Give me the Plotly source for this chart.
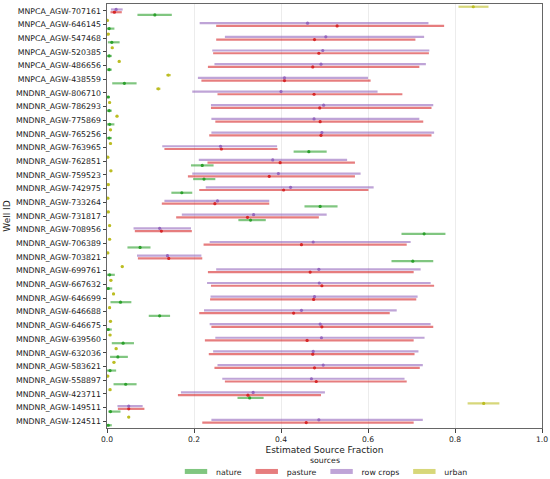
"""Estimated source fractions per well, with uncertainty ranges."""

import plotly.graph_objects as go

wells = [
    'MNPCA_AGW-707161', 'MNPCA_AGW-646145', 'MNPCA_AGW-547468', 'MNPCA_AGW-520385',
    'MNPCA_AGW-486656', 'MNPCA_AGW-438559', 'MNDNR_AGW-806710', 'MNDNR_AGW-786293',
    'MNDNR_AGW-775869', 'MNDNR_AGW-765256', 'MNDNR_AGW-763965', 'MNDNR_AGW-762851',
    'MNDNR_AGW-759523', 'MNDNR_AGW-742975', 'MNDNR_AGW-733264', 'MNDNR_AGW-731817',
    'MNDNR_AGW-708956', 'MNDNR_AGW-706389', 'MNDNR_AGW-703821', 'MNDNR_AGW-699761',
    'MNDNR_AGW-667632', 'MNDNR_AGW-646699', 'MNDNR_AGW-646688', 'MNDNR_AGW-646675',
    'MNDNR_AGW-639560', 'MNDNR_AGW-632036', 'MNDNR_AGW-583621', 'MNDNR_AGW-558897',
    'MNDNR_AGW-423711', 'MNDNR_AGW-149511', 'MNDNR_AGW-124511',
]

nature_mid = [0.110, 0.005, 0.011, 0.005, 0.005, 0.040, 0.003, 0.005, 0.006, 0.005,
              0.464, 0.219, 0.223, 0.172, 0.490, 0.330, 0.729, 0.076, 0.703, 0.006,
              0.003, 0.031, 0.121, 0.003, 0.037, 0.025, 0.007, 0.043, 0.328, 0.008, 0.003]
nature_lo = [0.070, 0.000, 0.002, 0.000, 0.000, 0.012, 0.000, 0.000, 0.000, 0.000,
             0.429, 0.193, 0.198, 0.148, 0.454, 0.302, 0.677, 0.047, 0.654, 0.000,
             0.000, 0.008, 0.096, 0.000, 0.011, 0.007, 0.000, 0.015, 0.300, 0.003, 0.000]
nature_hi = [0.149, 0.017, 0.029, 0.011, 0.011, 0.068, 0.006, 0.011, 0.017, 0.011,
             0.505, 0.245, 0.249, 0.196, 0.530, 0.365, 0.778, 0.100, 0.750, 0.018,
             0.012, 0.056, 0.145, 0.011, 0.062, 0.048, 0.021, 0.068, 0.360, 0.031, 0.011]

pasture_mid = [0.017, 0.529, 0.477, 0.487, 0.473, 0.408, 0.476, 0.489, 0.490, 0.492,
               0.263, 0.398, 0.373, 0.406, 0.248, 0.323, 0.125, 0.447, 0.142, 0.467,
               0.494, 0.475, 0.429, 0.494, 0.460, 0.473, 0.477, 0.481, 0.324, 0.050, 0.458]
pasture_lo = [0.008, 0.251, 0.251, 0.244, 0.232, 0.217, 0.254, 0.239, 0.249, 0.235,
              0.132, 0.231, 0.186, 0.212, 0.126, 0.159, 0.064, 0.222, 0.071, 0.232,
              0.239, 0.237, 0.212, 0.240, 0.225, 0.234, 0.247, 0.271, 0.163, 0.025, 0.219]
pasture_hi = [0.034, 0.775, 0.709, 0.740, 0.718, 0.606, 0.679, 0.746, 0.727, 0.746,
              0.392, 0.570, 0.570, 0.601, 0.373, 0.487, 0.195, 0.689, 0.219, 0.705,
              0.752, 0.711, 0.650, 0.750, 0.705, 0.707, 0.719, 0.689, 0.492, 0.086, 0.705]

rowcrops_mid = [0.021, 0.461, 0.503, 0.496, 0.492, 0.408, 0.400, 0.498, 0.476, 0.494,
                0.261, 0.381, 0.394, 0.422, 0.254, 0.337, 0.121, 0.474, 0.139, 0.487,
                0.488, 0.477, 0.447, 0.490, 0.493, 0.474, 0.497, 0.470, 0.336, 0.050, 0.487]
rowcrops_lo = [0.009, 0.213, 0.271, 0.242, 0.247, 0.209, 0.196, 0.239, 0.240, 0.240,
               0.127, 0.211, 0.196, 0.227, 0.132, 0.172, 0.061, 0.236, 0.069, 0.251,
               0.230, 0.238, 0.223, 0.236, 0.249, 0.244, 0.254, 0.265, 0.170, 0.024, 0.240]
rowcrops_hi = [0.036, 0.739, 0.729, 0.741, 0.733, 0.600, 0.622, 0.750, 0.718, 0.752,
               0.391, 0.552, 0.583, 0.613, 0.373, 0.505, 0.193, 0.698, 0.217, 0.721,
               0.744, 0.714, 0.666, 0.744, 0.730, 0.716, 0.726, 0.684, 0.501, 0.082, 0.726]

urban_mid = [0.842, 0.001, 0.003, 0.012, 0.028, 0.141, 0.118, 0.006, 0.023, 0.008,
             0.008, 0.002, 0.009, 0.003, 0.002, 0.003, 0.006, 0.006, 0.002, 0.035,
             0.009, 0.015, 0.006, 0.008, 0.007, 0.021, 0.016, 0.002, 0.007, 0.866, 0.050]
urban_lo = [0.808, 0.000, 0.000, 0.009, 0.025, 0.136, 0.113, 0.003, 0.020, 0.005,
            0.005, 0.000, 0.006, 0.000, 0.000, 0.000, 0.003, 0.003, 0.000, 0.032,
            0.006, 0.012, 0.003, 0.005, 0.004, 0.018, 0.013, 0.000, 0.004, 0.829, 0.047]
urban_hi = [0.877, 0.002, 0.006, 0.015, 0.031, 0.147, 0.123, 0.009, 0.026, 0.011,
            0.011, 0.004, 0.012, 0.006, 0.004, 0.006, 0.009, 0.009, 0.004, 0.038,
            0.012, 0.018, 0.009, 0.011, 0.010, 0.024, 0.019, 0.004, 0.010, 0.902, 0.053]

# name, mid, lo, hi, dot colour, bar colour, row offset
sources = [
    ('nature', nature_mid, nature_lo, nature_hi, '#2ca02c', 'rgba(44,160,44,0.6)', 0.3),
    ('pasture', pasture_mid, pasture_lo, pasture_hi, '#d62728', 'rgba(214,39,40,0.6)', 0.1),
    ('row crops', rowcrops_mid, rowcrops_lo, rowcrops_hi, '#9467bd', 'rgba(148,103,189,0.6)', -0.1),
    ('urban', urban_mid, urban_lo, urban_hi, '#bcbd22', 'rgba(188,189,34,0.6)', -0.3),
]

FONT = 'DejaVu Sans'
fig = go.Figure()

for name, mid, lo, hi, dot, bar, off in sources:
    fig.add_trace(go.Scatter(
        x=mid,
        y=[i + off for i in range(len(wells))],
        mode='markers',
        marker=dict(color=dot, size=3.2),
        error_x=dict(
            type='data',
            symmetric=False,
            array=[h - m for h, m in zip(hi, mid)],
            arrayminus=[m - l for m, l in zip(mid, lo)],
            color=bar,
            thickness=2.2,
            width=0,
        ),
        showlegend=False,
        hoverinfo='skip',
    ))

# legend patches
for name, mid, lo, hi, dot, bar, off in sources:
    fig.add_trace(go.Scatter(
        x=[None], y=[None],
        mode='markers',
        name=name,
        marker=dict(symbol='line-ew', size=16, line=dict(color=bar, width=6)),
    ))

fig.update_layout(
    width=550,
    height=479,
    margin=dict(l=107, r=8, t=4, b=51, autoexpand=False),
    plot_bgcolor='white',
    paper_bgcolor='white',
    font=dict(family=FONT, size=7.8, color='#222'),
    legend=dict(
        orientation='h',
        xref='paper', x=0.5, xanchor='center',
        yref='container', y=0.046, yanchor='top',
        font=dict(size=7.8),
        itemwidth=30,
        tracegroupgap=0,
        bgcolor='rgba(0,0,0,0)',
    ),
    annotations=[dict(
        text='sources', showarrow=False,
        xref='paper', x=0.5, xanchor='center',
        yref='paper', y=-0.0755, yanchor='middle',
        font=dict(size=7.8),
    )],
)

fig.update_xaxes(
    range=[0, 1],
    tickvals=[0, 0.2, 0.4, 0.6, 0.8, 1.0],
    tickformat='.1f',
    tickfont=dict(size=7.6),
    showgrid=True, gridcolor='#ececec', gridwidth=0.8,
    zeroline=False,
    showline=True, linecolor='#666', linewidth=1, mirror=True,
    ticks='outside', ticklen=3.5, tickcolor='#444',
    title=dict(text='Estimated Source Fraction', standoff=4),
    automargin=False,
)
fig.update_yaxes(
    range=[len(wells) - 0.5, -0.5],
    tickvals=list(range(len(wells))),
    ticktext=wells,
    showgrid=False,
    zeroline=False,
    showline=True, linecolor='#666', linewidth=1, mirror=True,
    ticks='outside', ticklen=3.5, tickcolor='#444',
    title=dict(text='Well ID', standoff=3),
    automargin=False,
)

# the page body has a default 8px margin; drop it so the figure sits at 0,0
fig.write_html(
    'out.html',
    config={'displayModeBar': False},
    post_script="document.body.style.margin='0';",
)
